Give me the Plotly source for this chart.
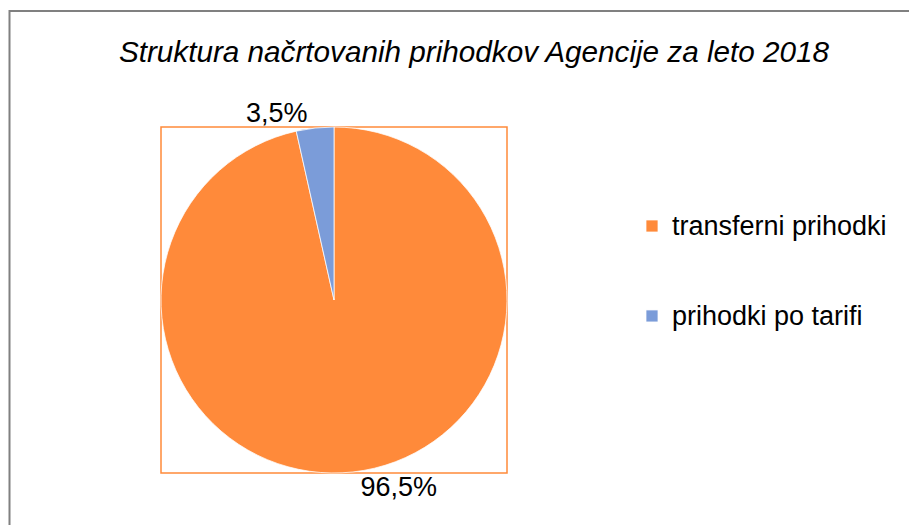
import plotly.graph_objects as go

labels = ["transferni prihodki", "prihodki po tarifi"]
values = [96.5, 3.5]
colors = ["#FF8A3A", "#7B9CD9"]
title_text = "Struktura načrtovanih prihodkov Agencije za leto 2018"

W, H = 917, 525
OFF = 8  # page body margin
# pie plot area (screen pixels in reference)
px0, px1, py0, py1 = 161 - OFF, 507 - OFF, 127 - OFF, 473 - OFF
dom_x = [px0 / W, px1 / W]
dom_y = [1 - py1 / H, 1 - py0 / H]

FS = 27
LEG_FS = 22.3
span = '<span style="font-size:%spx">%s</span>'
legend_labels = [span % (FS, labels[0]) + "<br> <br> ", span % (FS, labels[1])]

fig = go.Figure(go.Pie(
    labels=legend_labels,
    values=values,
    sort=False,
    direction="clockwise",
    rotation=0,
    marker=dict(colors=colors, line=dict(color="white", width=0.75)),
    textposition="outside",
    texttemplate="%{percent:.1%}",
    textfont=dict(family="Liberation Sans, Arial", size=FS, color="#000"),
    hovertemplate="%{value}%<extra></extra>",
    domain=dict(x=dom_x, y=dom_y),
    showlegend=True,
))

fig.update_layout(
    width=W, height=H,
    margin=dict(l=0, r=0, t=0, b=0),
    paper_bgcolor="white",
    separators=",.",
    font=dict(family="Liberation Sans, Arial", color="#000"),
    title=dict(text=title_text, x=(474 - OFF) / W, xanchor="center", y=1 - (52 - OFF) / H, yanchor="middle",
               font=dict(family="Liberation Sans, Arial", size=29.7, style="italic", color="#000")),
    legend=dict(x=(672 - 40 - OFF) / W, xanchor="left", y=1 - (205 - OFF) / H, yanchor="top", valign="top",
                font=dict(family="Liberation Sans, Arial", size=LEG_FS, color="#000"),
                itemwidth=30, bgcolor="rgba(0,0,0,0)"),
    shapes=[
        dict(type="rect", xref="paper", yref="paper", x0=dom_x[0], x1=dom_x[1], y0=dom_y[0], y1=dom_y[1],
             line=dict(color="#FF8A3A", width=1.5), layer="below"),
        dict(type="rect", xref="paper", yref="paper", x0=1.5 / W, x1=1.05, y0=-0.05, y1=1 - (11 - OFF) / H,
             line=dict(color="#808080", width=2)),
    ],
)

fig.write_html("out.html")
